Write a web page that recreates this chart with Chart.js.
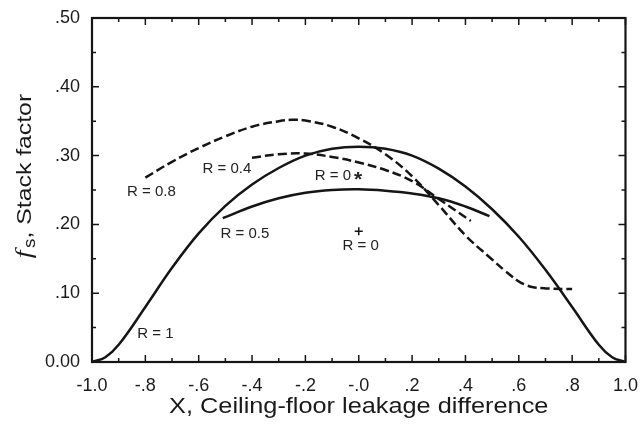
<!DOCTYPE html>
<html>
<head>
<meta charset="utf-8">
<script src="https://cdn.jsdelivr.net/npm/chart.js@4"></script>
<style>
  html, body { margin: 0; padding: 0; background: #fff; }
  #wrap { width: 643px; height: 424px; }
</style>
</head>
<body>
<div id="wrap"><canvas id="chart" width="643" height="424"></canvas></div>
<script>
// tick labels
const xTickLabels = ['-1.0', '-.8', '-.6', '-.4', '-.2', '-.0', '.2', '.4', '.6', '.8', '1.0'];
const yTickLabels = ['0.00', '.10', '.20', '.30', '.40', '.50'];

// R = 1 (solid)
const r1X = [-1, -0.95, -0.9, -0.8, -0.7, -0.6, -0.5, -0.4, -0.3, -0.2, -0.1, 0, 0.1, 0.2, 0.3, 0.4, 0.5, 0.6, 0.7, 0.8, 0.9, 0.95, 1];
const r1Y = [0, 0.007, 0.025, 0.08, 0.137, 0.187, 0.227, 0.258, 0.282, 0.3, 0.31, 0.313, 0.31, 0.3, 0.281, 0.255, 0.222, 0.182, 0.134, 0.08, 0.025, 0.007, 0];

// R = 0.8 (dashed)
const r08X = [-0.8, -0.7, -0.6, -0.5, -0.4, -0.3, -0.25, -0.2, -0.1, 0, 0.1, 0.2, 0.3, 0.4, 0.5, 0.55, 0.6, 0.62, 0.65, 0.7, 0.8];
const r08Y = [0.268, 0.291, 0.311, 0.328, 0.342, 0.35, 0.352, 0.351, 0.342, 0.325, 0.302, 0.27, 0.228, 0.184, 0.149, 0.132, 0.117, 0.113, 0.109, 0.107, 0.106];

// R = 0.4 (dashed)
const r04X = [-0.4, -0.3, -0.2, -0.1, 0, 0.1, 0.2, 0.3, 0.42];
const r04Y = [0.297, 0.302, 0.303, 0.298, 0.29, 0.279, 0.263, 0.237, 0.205];

// R = 0.5 (solid)
const r05X = [-0.51, -0.4, -0.3, -0.2, -0.1, 0, 0.1, 0.2, 0.3, 0.4, 0.49];
const r05Y = [0.209, 0.226, 0.238, 0.246, 0.25, 0.251, 0.249, 0.245, 0.238, 0.226, 0.212];

// R = 0 single point
const r0X = [0];
const r0Y = [0.19];

// curve labels, in data units
const labelText = ['R = 0.8', 'R = 0.4', 'R = 0.5', 'R = 0*', 'R = 0', 'R = 1'];
const labelX    = [-0.777, -0.494, -0.427, -0.078, 0.007, -0.762];
const labelY    = [0.247, 0.281, 0.186, 0.270, 0.169, 0.041];

const FONT = "'Liberation Sans', Arial, sans-serif";
const INK  = '#151515';

const pts = (xs, ys) => xs.map((x, i) => ({ x, y: ys[i] }));

const curve = (data, dash) => ({
  data,
  showLine: true,
  borderColor: INK,
  borderWidth: 2.5,
  borderDash: dash,
  pointRadius: 0,
  tension: 0.4,
  clip: false,
});

// text stretched sideways, the scan's font is wider than Arial
function wideText(ctx, text, x, y, sx) {
  ctx.save();
  ctx.translate(x, y);
  ctx.scale(sx, 1);
  ctx.fillText(text, 0, 0);
  ctx.restore();
}

// frame + inward ticks on all four sides
const framePlugin = {
  id: 'frame',
  afterDraw(chart) {
    const { ctx, chartArea: a, scales: { x, y } } = chart;
    ctx.save();
    ctx.strokeStyle = INK;
    ctx.lineWidth = 1.5;
    ctx.beginPath();
    for (let i = -10; i <= 10; i++) {
      const px = x.getPixelForValue(i / 10);
      const len = i % 2 === 0 ? 7 : 4;
      ctx.moveTo(px, a.bottom); ctx.lineTo(px, a.bottom - len);
      ctx.moveTo(px, a.top);    ctx.lineTo(px, a.top + len);
    }
    for (let i = 0; i <= 10; i++) {
      const py = y.getPixelForValue(i * 0.05);
      const len = i % 2 === 0 ? 7 : 4;
      ctx.moveTo(a.left, py);  ctx.lineTo(a.left + len, py);
      ctx.moveTo(a.right, py); ctx.lineTo(a.right - len, py);
    }
    ctx.stroke();
    ctx.lineWidth = 2.2;
    ctx.strokeRect(a.left, a.top, a.right - a.left, a.bottom - a.top);
    ctx.restore();
  },
};

// curve labels and axis titles
const textPlugin = {
  id: 'texts',
  afterDatasetsDraw(chart) {
    const { ctx, chartArea: a, scales: { x, y } } = chart;
    ctx.save();
    ctx.fillStyle = '#222';
    ctx.textBaseline = 'middle';
    labelText.forEach((t, i) => {
      const px = x.getPixelForValue(labelX[i]);
      const py = y.getPixelForValue(labelY[i]);
      ctx.font = `15px ${FONT}`;
      if (t.endsWith('*')) {
        const base = t.slice(0, -1);
        const w = ctx.measureText(base).width;
        ctx.textAlign = 'left';
        ctx.fillText(base, px - w / 2 - 5, py);
        ctx.font = `bold 21px ${FONT}`;
        ctx.fillText('*', px + w / 2 - 2, py + 4);
      } else {
        ctx.textAlign = 'center';
        ctx.fillText(t, px, py);
      }
    });

    // x title
    ctx.fillStyle = '#1a1a1a';
    ctx.textAlign = 'center';
    ctx.font = `22px ${FONT}`;
    wideText(ctx, 'X, Ceiling-floor leakage difference', (a.left + a.right) / 2, 407, 1.15);

    // y title: italic f, subscript s, rest
    ctx.translate(25, 176);
    ctx.rotate(-Math.PI / 2);
    ctx.scale(1.18, 1);
    const fFont = "italic 24px 'Liberation Serif', 'Times New Roman', serif";
    const sFont = `16px ${FONT}`;
    const rFont = `21px ${FONT}`;
    const rest = ', Stack factor';
    ctx.font = fFont; const wf = ctx.measureText('f').width + 2;
    ctx.font = sFont; const ws = ctx.measureText('s').width;
    ctx.font = rFont; const wr = ctx.measureText(rest).width;
    let cx = -(wf + ws + wr) / 2;
    ctx.textAlign = 'left';
    ctx.font = fFont; ctx.fillText('f', cx, 0); cx += wf;
    ctx.font = sFont; ctx.fillText('s', cx, 6); cx += ws;
    ctx.font = rFont; ctx.fillText(rest, cx, 0);
    ctx.restore();
  },
};

new Chart(document.getElementById('chart'), {
  type: 'scatter',
  data: {
    datasets: [
      curve(pts(r1X, r1Y), []),
      curve(pts(r08X, r08Y), [9, 4]),
      curve(pts(r04X, r04Y), [9, 4]),
      curve(pts(r05X, r05Y), []),
      {
        data: pts(r0X, r0Y),
        pointStyle: 'cross',
        pointRadius: 4,
        borderColor: INK,
        borderWidth: 1.5,
      },
    ],
  },
  options: {
    responsive: false,
    animation: false,
    layout: { padding: { top: 18, right: 13, left: 0, bottom: 0 } },
    plugins: { legend: { display: false }, tooltip: { enabled: false } },
    scales: {
      x: {
        type: 'linear', min: -1, max: 1,
        grid: { display: false }, border: { display: false },
        afterFit: (s) => { s.height = 62; },
        ticks: {
          stepSize: 0.2, autoSkip: false, maxRotation: 0, padding: 5,
          color: '#1a1a1a', font: { family: FONT, size: 18 },
          callback: (v, i) => xTickLabels[i] ?? '',
        },
      },
      y: {
        type: 'linear', min: 0, max: 0.5,
        grid: { display: false }, border: { display: false },
        afterFit: (s) => { s.width = 92; },
        ticks: {
          stepSize: 0.1, autoSkip: false, padding: 4,
          color: '#1a1a1a', font: { family: FONT, size: 18 },
          callback: (v, i) => yTickLabels[i] ?? '',
        },
      },
    },
  },
  plugins: [framePlugin, textPlugin],
});
</script>
</body>
</html>
